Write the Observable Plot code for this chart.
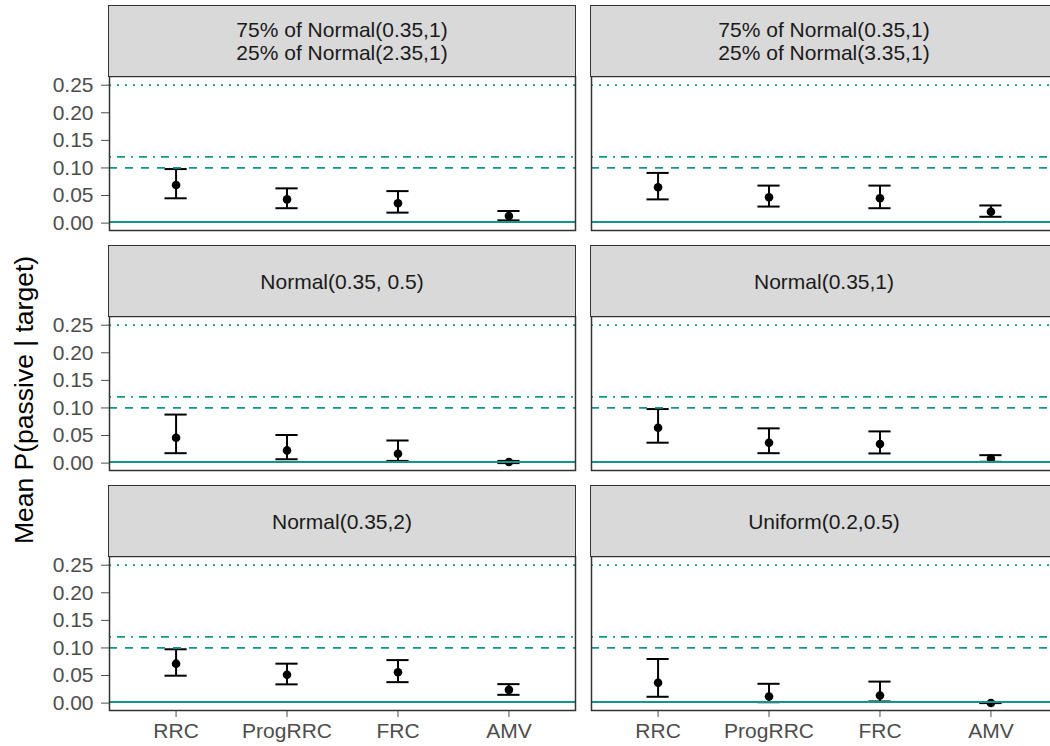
<!DOCTYPE html>
<html><head><meta charset="utf-8">
<script src="https://cdn.jsdelivr.net/npm/d3@7"></script>
<script src="https://cdn.jsdelivr.net/npm/@observablehq/plot@0.6"></script>
<style>
html,body{margin:0;padding:0;background:#fff;overflow:hidden;width:1050px;height:746px}
#wrap{position:relative;width:1050px;height:746px;font-family:"Liberation Sans",Arial,sans-serif;overflow:hidden}
#wrap svg{position:absolute;left:0;top:0;max-width:none}
.strip{position:absolute;box-sizing:border-box;background:#D9D9D9;border:1.5px solid #333;display:flex;align-items:center;justify-content:center;text-align:center;color:#1A1A1A;font-size:21px;line-height:23px;white-space:pre}
.ytitle{position:absolute;left:24px;top:400px;transform:translate(-50%,-50%) rotate(-90deg);font-size:26.5px;color:#000;white-space:nowrap}
</style></head><body><div id="wrap"></div><script>
// categories
const methods = ["RRC", "ProgRRC", "FRC", "AMV"];
// facet panels
const panelLabels = [
  "75% of Normal(0.35,1)\n25% of Normal(2.35,1)",
  "75% of Normal(0.35,1)\n25% of Normal(3.35,1)",
  "Normal(0.35, 0.5)",
  "Normal(0.35,1)",
  "Normal(0.35,2)",
  "Uniform(0.2,0.5)"
];
const panelCols = [0, 1, 0, 1, 0, 1];
const panelRows = [0, 0, 1, 1, 2, 2];
// series values (per panel, per method)
const meanVals = [
  [0.069, 0.043, 0.036, 0.013],
  [0.065, 0.047, 0.045, 0.0205],
  [0.046, 0.023, 0.017, 0.002],
  [0.064, 0.037, 0.0345, 0.0084],
  [0.0715, 0.0515, 0.056, 0.024],
  [0.037, 0.012, 0.0138, 0.0003]
];
const lowerVals = [
  [0.045, 0.027, 0.019, 0.005],
  [0.043, 0.030, 0.027, 0.0115],
  [0.018, 0.007, 0.004, 0.0],
  [0.037, 0.018, 0.0175, 0.0024],
  [0.0497, 0.034, 0.038, 0.015],
  [0.0115, 0.0016, 0.003, 0.0]
];
const upperVals = [
  [0.098, 0.063, 0.058, 0.022],
  [0.091, 0.068, 0.068, 0.032],
  [0.088, 0.051, 0.041, 0.004],
  [0.098, 0.063, 0.0575, 0.0144],
  [0.0976, 0.0715, 0.078, 0.0344],
  [0.080, 0.035, 0.039, 0.001]
];
// reference lines
const refValues = [0.002, 0.10, 0.12, 0.25];
const refDashes = [null, "8,8", "2,6,8,6", "2,6"];
// y ticks
const yTicks = [0, 0.05, 0.10, 0.15, 0.20, 0.25];

const teal = "#11968F";

const rows = [];
panelLabels.forEach((lab, p) => {
  methods.forEach((m, i) => {
    rows.push({col: panelCols[p], row: panelRows[p], method: m,
      mean: meanVals[p][i], lower: lowerVals[p][i], upper: upperVals[p][i]});
  });
});

const refMarks = refValues.map((v, i) => Plot.ruleY([v], {
  stroke: teal, strokeWidth: 1.8,
  strokeDasharray: refDashes[i] || undefined
}));

const plot = Plot.plot({
  width: 1057,
  height: 746,
  marginLeft: 109,
  marginRight: 0,
  marginTop: 76,
  marginBottom: 36,
  style: {fontFamily: "Liberation Sans, Arial, sans-serif", fontSize: "21px", color: "#4D4D4D", background: "transparent", overflow: "visible", maxWidth: "none"},
  facet: {data: rows, x: "col", y: "row", marginTop: 0, marginRight: 0, marginBottom: 0, marginLeft: 0},
  fx: {domain: [0, 1], paddingInner: 16 / 482, paddingOuter: 0, round: false, axis: null},
  fy: {domain: [0, 1, 2], paddingInner: 86 / 240, paddingOuter: 0, round: false, axis: null},
  x: {domain: methods, type: "band", paddingInner: 0.8, paddingOuter: 0.5, round: false, label: null, tickSize: 7, tickPadding: 6},
  y: {domain: [-0.0134, 0.2658], ticks: yTicks, tickFormat: d3.format(".2f"), tickSize: 8, tickPadding: 8, label: null},
  marks: [
    Plot.ruleX(rows, {x: "method", y1: "lower", y2: "upper", stroke: "black", strokeWidth: 2}),
    Plot.tickY(rows, {x: "method", y: "lower", stroke: "black", strokeWidth: 2}),
    Plot.tickY(rows, {x: "method", y: "upper", stroke: "black", strokeWidth: 2}),
    Plot.dot(rows, {x: "method", y: "mean", r: 4.3, fill: "black", stroke: "none"}),
    ...refMarks,
    Plot.frame({stroke: "#333", strokeWidth: 1.5})
  ]
});

const wrap = document.getElementById("wrap");
wrap.appendChild(plot);

const fx = plot.scale("fx");
const fy = plot.scale("fy");
panelLabels.forEach((lab, p) => {
  const x0 = fx.apply(panelCols[p]);
  const y0 = fy.apply(panelRows[p]);
  const bw = fx.bandwidth;
  const d = document.createElement("div");
  d.className = "strip";
  d.style.left = (x0 - 0.75) + "px";
  d.style.width = (bw + 1.5) + "px";
  d.style.top = (y0 - 70 - 0.75) + "px";
  d.style.height = (70 + 1.5) + "px";
  d.textContent = lab;
  wrap.appendChild(d);
});

const t = document.createElement("div");
t.className = "ytitle";
t.textContent = "Mean P(passive | target)";
wrap.appendChild(t);
</script></body></html>
